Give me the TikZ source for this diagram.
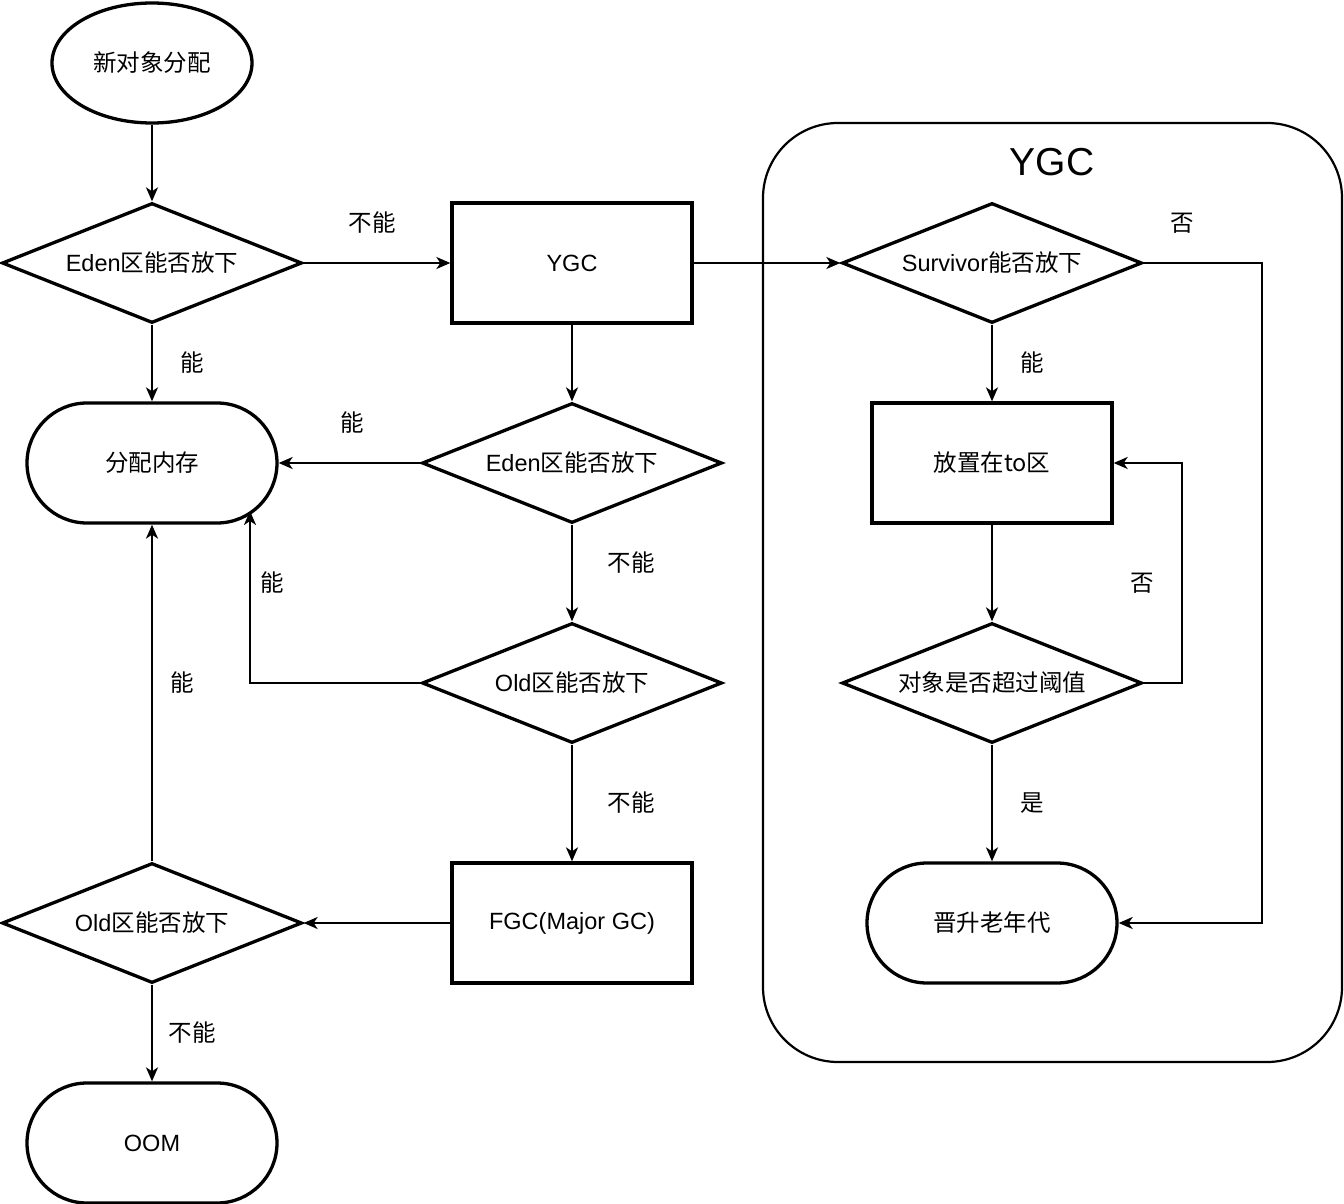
\documentclass[tikz,border=0pt]{standalone}
\usepackage{fontspec}
\setmainfont{Liberation Sans}
\newfontfamily\cjk{Noto Sans CJK SC}
\usetikzlibrary{shapes.geometric,arrows.meta}
\begin{document}
\begin{tikzpicture}[x=1pt,y=-1pt,
 font=\fontsize{23.5}{27}\selectfont,
 dec/.style={diamond, draw, line width=3.3pt, shape aspect=2.5, minimum width=300pt, minimum height=120pt, inner sep=0pt},
 proc/.style={rectangle, draw, line width=3.3pt, minimum width=240pt, minimum height=120pt},
 term/.style={rectangle, rounded corners=60pt, draw, line width=3.3pt, minimum width=250pt, minimum height=120pt},
 startnode/.style={ellipse, draw, line width=3.3pt, minimum width=200pt, minimum height=120pt},
 conn/.style={line width=2.2pt, -{Stealth[length=14pt,width=12pt,inset=4pt]}},
 lbl/.style={inner sep=0pt}]
\useasboundingbox (0,0) rectangle (1344,1204);
% container
\node[draw, line width=2.2pt, rounded corners=75pt, minimum width=579pt, minimum height=939pt] (box) at (1052.5,592.5) {};
\node[font=\fontsize{39}{44}\selectfont] (title) at (1052,162) {YGC};
% nodes
\node[startnode] (start) at (152,63) {\cjk 新对象分配};
\node[dec] (d1) at (152,263) {Eden{\cjk 区能否放下}};
\node[term] (mem) at (152,463) {\cjk 分配内存};
\node[proc] (ygc) at (572,263) {YGC};
\node[dec] (d2) at (572,463) {Eden{\cjk 区能否放下}};
\node[dec] (d3) at (572,683) {Old{\cjk 区能否放下}};
\node[proc] (fgc) at (572,923) {FGC(Major GC)};
\node[dec] (d4) at (152,923) {Old{\cjk 区能否放下}};
\node[term] (oom) at (152,1143) {OOM};
\node[dec] (sv) at (992,263) {Survivor{\cjk 能否放下}};
\node[proc] (to) at (992,463) {\cjk 放置在to区};
\node[dec] (th) at (992,683) {\cjk 对象是否超过阈值};
\node[term] (old) at (992,923) {\cjk 晋升老年代};
\coordinate (memhit) at (250,511);
% connectors
\draw[conn] (start) -- (d1);
\draw[conn] (d1.east) -- (ygc.west);
\draw[conn] (d1.south) -- (mem.north);
\draw[conn] (ygc.east) -- (sv.west);
\draw[conn] (ygc.south) -- (d2.north);
\draw[conn] (d2.west) -- (mem.east);
\draw[conn] (d2.south) -- (d3.north);
\draw[conn] (d3.west) -| (memhit);
\draw[conn] (d3.south) -- (fgc.north);
\draw[conn] (fgc.west) -- (d4.east);
\draw[conn] (d4.north) -- (mem.south);
\draw[conn] (d4.south) -- (oom.north);
\draw[conn] (sv.south) -- (to.north);
\draw[conn] (sv.east) -- (1262,263) |- (old.east);
\draw[conn] (to.south) -- (th.north);
\draw[conn] (th.east) -- (1182,683) |- (to.east);
\draw[conn] (th.south) -- (old.north);
% labels
\node[lbl] (l1) at (372,223) {\cjk 不能};
\node[lbl] (l2) at (192,363) {\cjk 能};
\node[lbl] (l3) at (352,423) {\cjk 能};
\node[lbl] (l4) at (631,563) {\cjk 不能};
\node[lbl] (l5) at (272,583) {\cjk 能};
\node[lbl] (l6) at (631,803) {\cjk 不能};
\node[lbl] (l7) at (182,683) {\cjk 能};
\node[lbl] (l8) at (192,1033) {\cjk 不能};
\node[lbl] (l9) at (1032,363) {\cjk 能};
\node[lbl] (l10) at (1182,223) {\cjk 否};
\node[lbl] (l11) at (1142,583) {\cjk 否};
\node[lbl] (l12) at (1032,803) {\cjk 是};
\end{tikzpicture}
\end{document}
